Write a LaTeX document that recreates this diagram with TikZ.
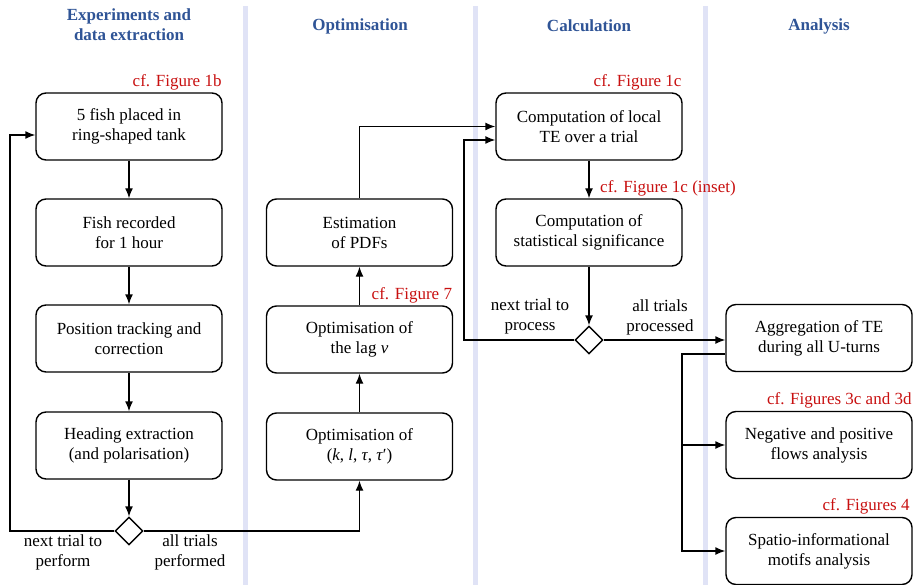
\documentclass[tikz,border=0pt]{standalone}
\usepackage{fontspec}
\setmainfont{Liberation Serif}
\usetikzlibrary{shapes.geometric,arrows.meta}
\definecolor{hdrblue}{RGB}{47,84,150}
\definecolor{cfred}{RGB}{200,16,16}
\definecolor{sepline}{RGB}{224,227,246}

\begin{document}
\begin{tikzpicture}[x=1pt,y=-1pt,
		every node/.style={font=\fontsize{17}{20}\selectfont},
		stepbox/.style={draw,rounded corners=10pt,line width=1.4pt,minimum width=186pt,minimum height=67pt,align=center,inner sep=0pt},
		test/.style={draw,diamond,line width=1.4pt,minimum size=28pt,inner sep=0pt},
		arr/.style={line width=1.4pt,-{Latex[length=10pt,width=8pt]}},
		link/.style={line width=1.4pt},
		header/.style={text=hdrblue,font=\fontsize{17}{20}\selectfont\bfseries,align=center},
		cf/.style={text=cfred,inner sep=1pt},
		branch/.style={align=center}]

		\useasboundingbox (0,0) rectangle (917,585);

		% column separators
		\foreach \sx in {245,475,705}
			\draw[sepline,line width=5pt] (\sx,6) -- (\sx,585);

		\node[header] (h1) at (129,25) {Experiments and\\data extraction};
		\node[header] (h2) at (360,26) {Optimisation};
		\node[header] (h3) at (589,26) {Calculation};
		\node[header] (h4) at (819,26) {Analysis};

		% experiments
		\node[stepbox] (b1) at (129,126.5) {5 fish placed in\\ring-shaped tank};
		\node[stepbox] (b2) at (129,232.5) {Fish recorded\\for 1 hour};
		\node[stepbox] (b3) at (129,338.5) {Position tracking and\\correction};
		\node[stepbox] (b4) at (129,445.5) {Heading extraction\\(and polarisation)};
		\node[test] (d1) at (129,531) {};

		% optimisation
		\node[stepbox] (est) at (359.5,232.5) {Estimation\\of PDFs};
		\node[stepbox] (lag) at (359.5,339.5) {Optimisation of\\the lag \textit{ν}};
		\node[stepbox] (opt) at (359.5,446.5) {Optimisation of\\(\textit{k}, \textit{l}, \textit{τ}, \textit{τ}′)};

		% calculation
		\node[stepbox] (c1) at (589,126.5) {Computation of local\\TE over a trial};
		\node[stepbox] (c2) at (589,232.5) {Computation of\\statistical significance};
		\node[test] (d2) at (589,340) {};

		% analysis
		\node[stepbox] (agg) at (819,338) {Aggregation of TE\\during all U-turns};
		\node[stepbox] (neg) at (819,445) {Negative and positive\\flows analysis};
		\node[stepbox] (spa) at (819,551) {Spatio-informational\\motifs analysis};

		% references to figures
		\node[cf,anchor=south east] at ([yshift=1pt]b1.north east) {cf. Figure 1b};
		\node[cf,anchor=south east] at ([yshift=1pt]c1.north east) {cf. Figure 1c};
		\node[cf,anchor=south west] at ([xshift=10pt,yshift=1pt]c2.north) {cf. Figure 1c (inset)};
		\node[cf,anchor=south east] at ([yshift=1pt]lag.north east) {cf. Figure 7};
		\node[cf,anchor=south east] at ([yshift=1pt]neg.north east) {cf. Figures 3c and 3d};
		\node[cf,anchor=south east] at ([xshift=-2pt,yshift=1pt]spa.north east) {cf. Figures 4};

		\draw[arr] (b1) -- (b2);
		\draw[arr] (b2) -- (b3);
		\draw[arr] (b3) -- (b4);
		\draw[arr] (b4) -- (d1);
		\draw[arr] (d1.west) -- (10,531) |- ([yshift=-8.5pt]b1.west);
		\draw[arr] (d1.east) -| (opt.south);
		\node[branch] (next1) at (63,552) {next trial to\\perform};
		\node[branch] (all1) at (190,552) {all trials\\performed};

		\draw[arr] (opt) -- (lag);
		\draw[arr] (lag) -- (est);
		\draw[arr] (est.north) |- (c1.west);

		\draw[arr] (c1) -- (c2);
		\draw[arr] (c2) -- (d2);
		\draw[arr] (d2.west) -- (464,340) |- ([yshift=-13.5pt]c1.west);
		\draw[arr] (d2.east) -- (d2.east -| agg.west);
		\node[branch] (next2) at (530,316) {next trial to\\process};
		\node[branch] (all2) at (660,317) {all trials\\processed};

		\coordinate (bus) at (682,0);
		\draw[arr] ([yshift=-16pt]agg.west) -| (bus |- spa.west) -- (spa.west);
		\draw[arr] (bus |- neg.west) -- (neg.west);

	\end{tikzpicture}
\end{document}
